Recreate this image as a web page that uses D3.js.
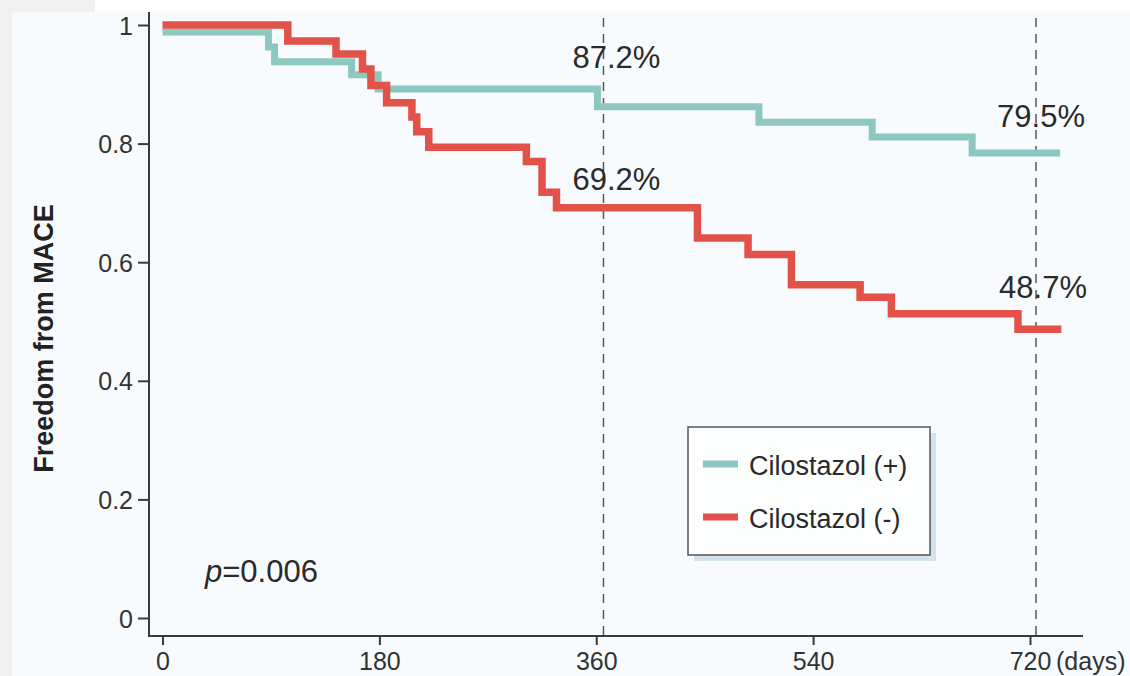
<!DOCTYPE html>
<html>
<head>
<meta charset="utf-8">
<style>
  body { margin: 0; background: #fff; }
  svg { display: block; font-family: "Liberation Sans", Arial, sans-serif; }
  .axis .domain { display: none; }
  .axis text { fill: #333; }
  .axis line { stroke: #3a3a3a; stroke-width: 2; }
</style>
</head>
<body>
<svg width="1130" height="676"></svg>
<script src="https://d3js.org/d3.v7.min.js"></script>
<script>

// Kaplan-Meier steps (days, survival)
var plusDays = [0, 88, 93, 157, 179, 361, 495, 589, 672, 745];
var plusSurv = [0.988, 0.963, 0.938, 0.916, 0.892, 0.862, 0.836, 0.811, 0.784, 0.784];

var minusDays = [0, 104, 144, 166, 173, 186, 207, 211, 221, 302, 315, 327, 444, 486, 522, 579, 605, 710, 746];
var minusSurv = [1, 0.973, 0.951, 0.926, 0.898, 0.869, 0.845, 0.820, 0.794, 0.770, 0.718, 0.692, 0.641, 0.613, 0.562, 0.541, 0.513, 0.487, 0.487];

var seriesNames = ["Cilostazol (+)", "Cilostazol (-)"];
var seriesColors = ["#8cc8c0", "#e2514a"];

var xTicks = [0, 180, 360, 540, 720];
var yTicks = [0, 0.2, 0.4, 0.6, 0.8, 1];

// reference lines at 1 and 2 years, and the rates printed beside them
var markDays = [366, 725];
var rateText = ["87.2%", "69.2%", "79.5%", "48.7%"];
var rateDay  = [366, 366, 725, 725];
var rateVal  = [0.872, 0.692, 0.795, 0.487];

var pText = "0.006";

var svg = d3.select("svg");

// panel background
svg.append("rect").attr("x", 0).attr("y", 0).attr("width", 95).attr("height", 12).attr("fill", "#f0f0f0");
svg.append("rect").attr("x", 0).attr("y", 0).attr("width", 12).attr("height", 676).attr("fill", "#f0f0f0");
svg.append("rect").attr("x", 12).attr("y", 12).attr("width", 1118).attr("height", 664).attr("fill", "#f8fbfd");

var x = d3.scaleLinear().domain([0, 720]).range([162.5, 1030]);
var y = d3.scaleLinear().domain([0, 1]).range([618, 25]);

var axisLeftX = 149, axisBottomY = 636;

// axes
var gy = svg.append("g")
    .attr("class", "axis")
    .attr("transform", "translate(" + axisLeftX + ",0)")
    .call(d3.axisLeft(y).tickValues(yTicks).tickSize(11).tickPadding(5)
      .tickFormat(function(d) { return d === 0 || d === 1 ? d3.format("d")(d) : d3.format(".1f")(d); }));
gy.selectAll("text").attr("font-size", 25).attr("dy", "0.36em");

var gx = svg.append("g")
    .attr("class", "axis")
    .attr("transform", "translate(0," + axisBottomY + ")")
    .call(d3.axisBottom(x).tickValues(xTicks).tickSize(9).tickPadding(7));
gx.selectAll("text").attr("font-size", 25);

svg.append("text")
    .attr("x", x(720) + 26)
    .attr("y", axisBottomY + 16)
    .attr("dy", "0.71em")
    .attr("font-size", 25)
    .attr("fill", "#333")
    .text("(days)");

svg.append("line")
    .attr("x1", axisLeftX).attr("x2", axisLeftX)
    .attr("y1", 12).attr("y2", axisBottomY + 1)
    .attr("stroke", "#3a3a3a").attr("stroke-width", 2);
svg.append("line")
    .attr("x1", axisLeftX - 1).attr("x2", 1083)
    .attr("y1", axisBottomY).attr("y2", axisBottomY)
    .attr("stroke", "#3a3a3a").attr("stroke-width", 2);

svg.append("text")
    .attr("transform", "translate(53," + (y(0.5) + 17) + ") rotate(-90)")
    .attr("text-anchor", "middle")
    .attr("font-size", 27)
    .attr("font-weight", "bold")
    .attr("fill", "#222")
    .text("Freedom from MACE");

// dashed year markers
svg.selectAll(".mark")
    .data(markDays)
    .enter().append("line")
    .attr("x1", function(d) { return x(d); })
    .attr("x2", function(d) { return x(d); })
    .attr("y1", 18)
    .attr("y2", axisBottomY)
    .attr("stroke", "#555")
    .attr("stroke-width", 1.5)
    .attr("stroke-dasharray", "9,7");

// step curves
var line = d3.line()
    .x(function(d) { return x(d[0]); })
    .y(function(d) { return y(d[1]); })
    .curve(d3.curveStepAfter);

var curves = [d3.zip(plusDays, plusSurv), d3.zip(minusDays, minusSurv)];
var widths = [7, 7.5];

svg.selectAll(".km")
    .data(curves)
    .enter().append("path")
    .attr("d", line)
    .attr("fill", "none")
    .attr("stroke", function(d, i) { return seriesColors[i]; })
    .attr("stroke-width", function(d, i) { return widths[i]; })
    .attr("stroke-linejoin", "miter");

// rate labels
var labelDx = [13, 13, 5, 7];
var labelDy = [-33, -18, -20, -31];
svg.selectAll(".rate")
    .data(rateText)
    .enter().append("text")
    .attr("x", function(d, i) { return x(rateDay[i]) + labelDx[i]; })
    .attr("y", function(d, i) { return y(rateVal[i]) + labelDy[i]; })
    .attr("text-anchor", "middle")
    .attr("font-size", 31)
    .attr("fill", "#2a2a2a")
    .text(function(d) { return d; });

// p value
var pt = svg.append("text")
    .attr("x", 205)
    .attr("y", 582)
    .attr("font-size", 31)
    .attr("fill", "#2a2a2a");
pt.append("tspan").attr("font-style", "italic").text("p");
pt.append("tspan").text("=" + pText);

// legend
var lg = svg.append("g").attr("transform", "translate(688,427)");
lg.append("rect")
    .attr("x", 6).attr("y", 6).attr("width", 242).attr("height", 128)
    .attr("fill", "#d3e3ee");
lg.append("rect")
    .attr("width", 242).attr("height", 128)
    .attr("fill", "#fdfefe")
    .attr("stroke", "#555").attr("stroke-width", 1.5);

var item = lg.selectAll(".item")
    .data(seriesNames)
    .enter().append("g")
    .attr("transform", function(d, i) { return "translate(0," + (37 + i * 53) + ")"; });
item.append("line")
    .attr("x1", 15).attr("x2", 50)
    .attr("stroke", function(d, i) { return seriesColors[i]; })
    .attr("stroke-width", 7);
item.append("text")
    .attr("x", 61)
    .attr("y", 11)
    .attr("font-size", 27)
    .attr("fill", "#2a2a2a")
    .text(function(d) { return d; });

</script>
</body>
</html>
